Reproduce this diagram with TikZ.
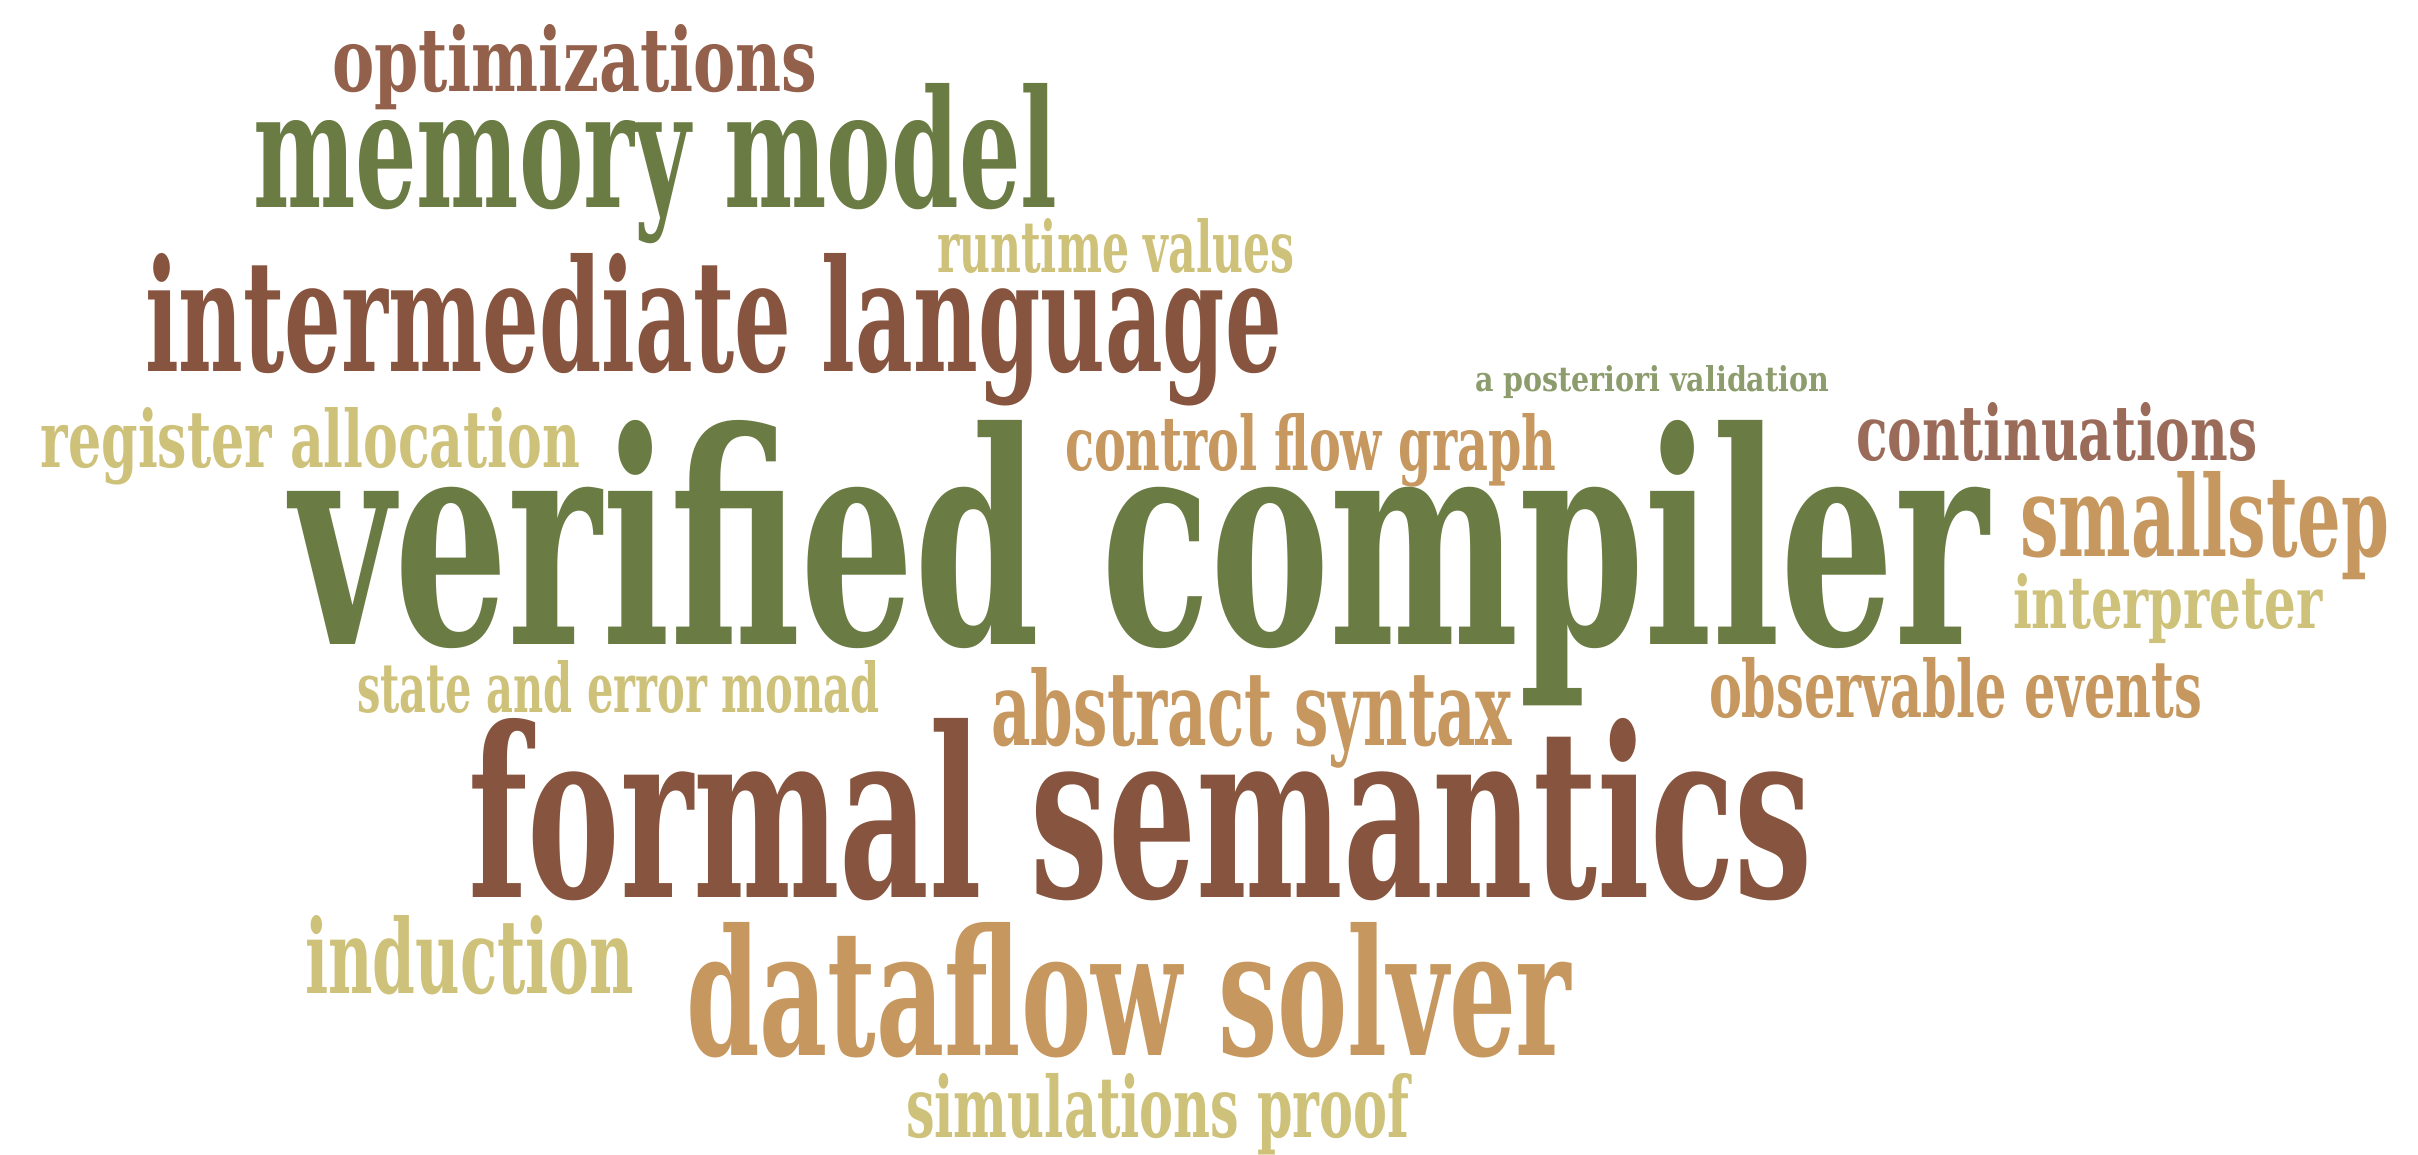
\documentclass[tikz,border=0pt]{standalone}
\usepackage{fontspec}
\usepackage{graphicx}
\newfontfamily\cloudfont{DejaVu Serif Condensed}

\definecolor{cgreen}{HTML}{6B7B44}
\definecolor{cbrown}{HTML}{87553F}
\definecolor{cbrownlt}{HTML}{93604B}
\definecolor{crose}{HTML}{9B6B5A}
\definecolor{ctan}{HTML}{C6985F}
\definecolor{ckhaki}{HTML}{CEC17A}
\definecolor{csage}{HTML}{8C9C6C}

% one word of the cloud: name, colour, left, right, baseline, ascender top (pixel units)
\newcommand\cloudword[7]{%
  \node[cword, text=#2] (#1) at (#3,#5)
    {\resizebox{\dimexpr 0.28453pt*\numexpr #4-#3\relax\relax}%
                {\dimexpr 0.28453pt*\numexpr #5-#6\relax\relax}%
                {\cloudfont\bfseries\vphantom{l}#7}};%
}

\begin{document}
\begin{tikzpicture}[x=0.01cm,y=-0.01cm,
  cword/.style={anchor=base west, inner sep=0pt, outer sep=0pt}]
\useasboundingbox (0,0) rectangle (2418,1154);

\cloudword{opt}{cbrownlt}{332}{817}{91}{24}{optimizations}
\cloudword{mem}{cgreen}{253}{1057}{207}{83}{memory model}
\cloudword{rtv}{ckhaki}{937}{1294}{272}{218}{runtime values}
\cloudword{il}{cbrown}{145}{1281}{371}{253}{intermediate language}
\cloudword{apv}{csage}{1475}{1829}{391}{365}{a posteriori validation}
\cloudword{ra}{ckhaki}{41}{580}{467}{407}{register allocation}
\cloudword{cfg}{ctan}{1065}{1556}{470}{413}{control flow graph}
\cloudword{cont}{crose}{1856}{2257}{460}{402}{continuations}
\cloudword{vc}{cgreen}{290}{1988}{644}{420}{verified compiler}
\cloudword{ss}{ctan}{2020}{2389}{556}{471}{smallstep}
\cloudword{interp}{ckhaki}{2013}{2322}{628}{573}{interpreter}
\cloudword{sem}{ckhaki}{357}{879}{712}{660}{state and error monad}
\cloudword{abs}{ctan}{991}{1512}{745}{667}{abstract syntax}
\cloudword{obs}{ctan}{1709}{2202}{717}{657}{observable events}
\cloudword{fs}{cbrown}{468}{1812}{897}{718}{formal semantics}
\cloudword{ind}{ckhaki}{305}{634}{993}{915}{induction}
\cloudword{dfs}{ctan}{686}{1571}{1055}{922}{dataflow solver}
\cloudword{sim}{ckhaki}{906}{1409}{1137}{1073}{simulations proof}
\end{tikzpicture}
\end{document}
